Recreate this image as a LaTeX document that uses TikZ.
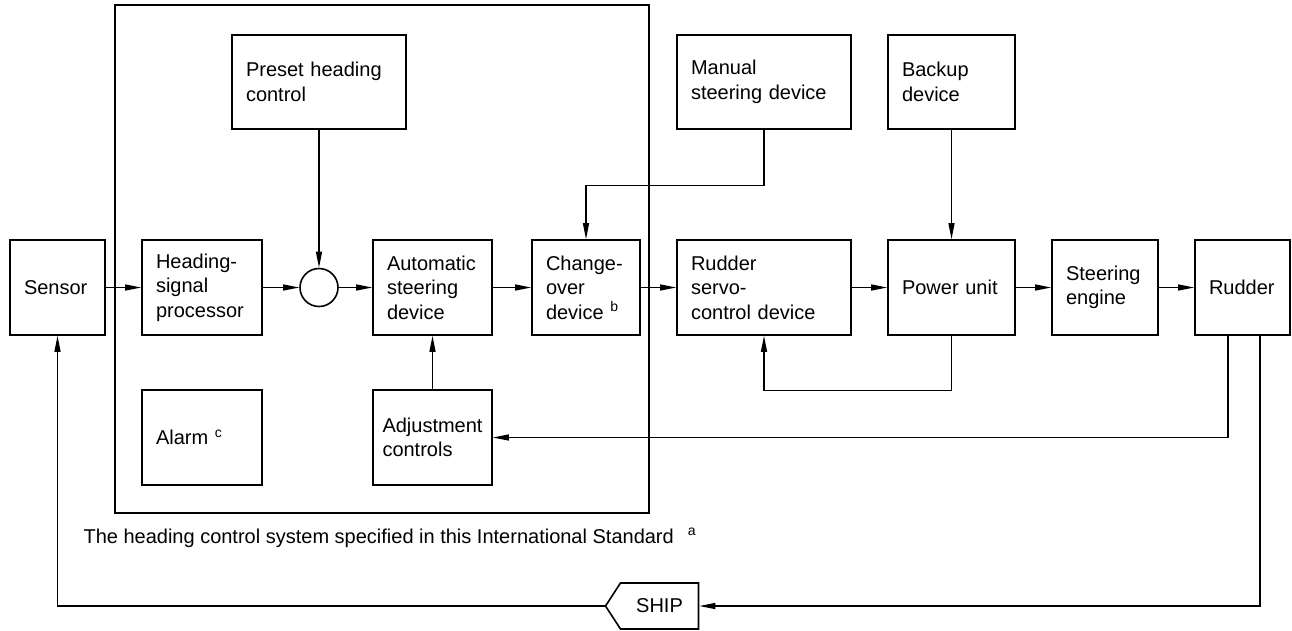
\documentclass[tikz,border=0pt]{standalone}
\usepackage{fontspec}
\setmainfont{Liberation Sans}
\usetikzlibrary{shapes,shapes.symbols,arrows.meta}
\tikzstyle{blk}=[rectangle,draw=black,line width=1.6pt,inner xsep=14pt,inner ysep=0pt,minimum height=95pt,align=left]
\tikzstyle{arr}=[line width=1.3pt,-{Triangle[length=16pt,width=6pt]}]

\begin{document}
\begin{tikzpicture}[x=1pt,y=-1pt,font=\fontsize{20}{24.5}\selectfont]
\useasboundingbox (0,0) rectangle (1292,630);
\draw[line width=2.4pt] (115,5) rectangle (649,513);
\node[blk,text width=67pt] (sen) at (57.5,287.5) {Sensor};
\node[blk,text width=92pt] (hsp) at (202,287.5) {Heading-\\signal\\processor};
\node[circle,draw=black,line width=1.6pt,minimum size=38pt,inner sep=0pt] (sum) at (319,287.5) {};
\node[blk,text width=91pt] (asd) at (432.5,287.5) {Automatic\\steering\\device};
\node[blk,text width=80pt] (cod) at (586,287.5) {Change-\\over\\device \textsuperscript{b}};
\node[blk,text width=146pt] (rsd) at (764,287.5) {Rudder\\servo-\\control device};
\node[blk,text width=99pt] (pwr) at (951.5,287.5) {Power unit};
\node[blk,text width=78pt] (eng) at (1105,287.5) {Steering\\engine};
\node[blk,text width=67pt] (rud) at (1242.5,287.5) {Rudder};
\node[blk,text width=146pt,minimum height=94pt] (phc) at (319,82) {Preset heading\\control};
\node[blk,text width=146pt,minimum height=94pt] (msd) at (764,82) {Manual\\steering device};
\node[blk,text width=99pt,minimum height=94pt] (bkp) at (951.5,82) {Backup\\device};
\node[blk,text width=92pt] (alm) at (202,437.5) {Alarm \textsuperscript{c}};
\node[blk,text width=100pt,inner xsep=9.5pt] (adj) at (432.5,437.5) {Adjustment\\controls};
\node[signal,signal to=west,signal from=nowhere,draw=black,line width=1.6pt,minimum height=46pt,minimum width=93pt,signal pointer angle=114,inner sep=0pt] (ship) at (659.5,606) {SHIP};
\node[anchor=base west] (cap) at (80,543) {The heading control system specified in this International Standard\hspace{14pt}\textsuperscript{a}};
\draw[arr] (sen) -- (hsp);
\draw[arr] (hsp) -- (sum);
\draw[arr] (sum) -- (asd);
\draw[arr] (asd) -- (cod);
\draw[arr] (cod) -- (rsd);
\draw[arr] (rsd) -- (pwr);
\draw[arr] (pwr) -- (eng);
\draw[arr] (eng) -- (rud);
\draw[arr] (phc) -- (sum);
\draw[arr] (adj) -- (asd);
\draw[arr] (bkp) -- (pwr);
\draw[arr] (msd.south) -- ++(0,56) -| (cod.north);
\draw[arr] (pwr.south) -- ++(0,55) -| (rsd.south);
\draw[arr] ([xshift=-14.5pt]rud.south) |- (adj.east);
\draw[arr] ([xshift=17.5pt]rud.south) |- (ship.east);
\draw[arr] (ship.west) -| (sen.south);
\end{tikzpicture}
\end{document}
